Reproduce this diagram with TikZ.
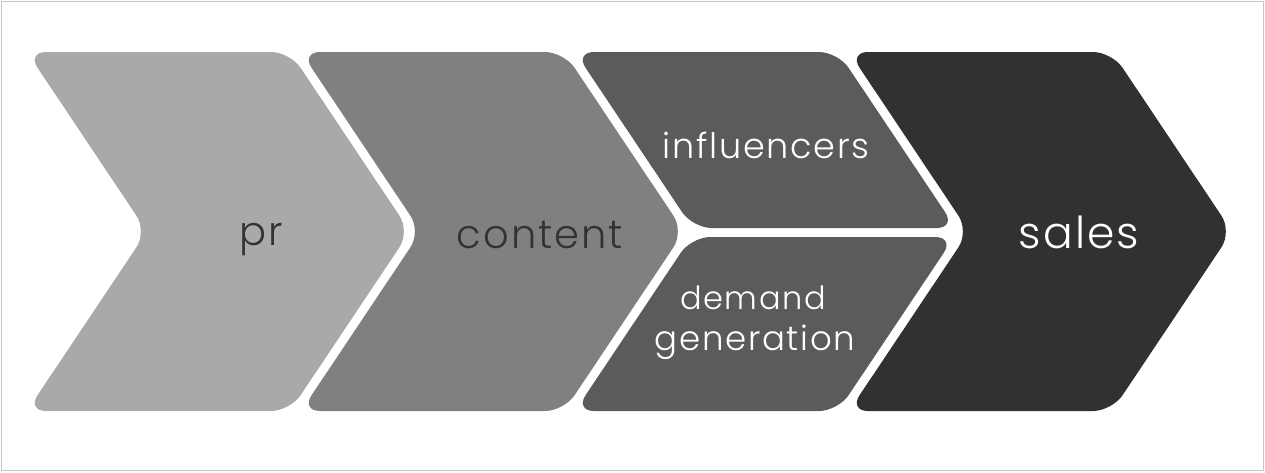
\documentclass[tikz,border=0pt]{standalone}
\usepackage{fontspec}
\setmainfont{Poppins}[UprightFont=* Light, LetterSpace=5]
\definecolor{cpr}{HTML}{A9A9A9}
\definecolor{ccontent}{HTML}{808080}
\definecolor{cmid}{HTML}{5B5B5B}
\definecolor{csales}{HTML}{313131}
\definecolor{cdark}{HTML}{333333}
\begin{document}
\begin{tikzpicture}[x=1pt,y=-1pt,
  chev/.style={rounded corners=19pt},
  lbl/.style={font=\fontsize{40}{44}\selectfont, inner sep=0pt, anchor=base},
  lbls/.style={font=\fontsize{35}{40}\selectfont, inner sep=0pt, anchor=base, text=white}]
\useasboundingbox (0,0) rectangle (1265,472);
\fill[white] (0,0) rectangle (1265,472);
\draw[gray!45, line width=1pt] (1,1) rectangle (1263,470);
% pr
\fill[cpr,chev] (158,52) -- (290,52) -- (410,231.5) -- (290,411) -- (27,411) -- (147,231.5) -- (27,52) -- cycle;
% content
\fill[ccontent,chev] (432,52) -- (564,52) -- (684,231.5) -- (564,411) -- (301,411) -- (421,231.5) -- (301,52) -- cycle;
% influencers (top half)
\fill[cmid,chev] (706,52) -- (838,52) -- (955.7,228) -- (692.7,228) -- (575,52) -- cycle;
% demand generation (bottom half)
\fill[cmid,chev] (706,411) -- (838,411) -- (954.3,237) -- (691.3,237) -- (575,411) -- cycle;
% sales
\fill[csales,chev] (980,52) -- (1112,52) -- (1232,231.5) -- (1112,411) -- (849,411) -- (969,231.5) -- (849,52) -- cycle;
\node[lbl, text=cdark] (pr) at (261,245) {pr};
\node[lbl, text=cdark] (content) at (540,248) {content};
\node[lbls] (infl) at (766,158) {influencers};
\node[lbls, font=\fontsize{32}{36}\selectfont] (demand) at (753,309) {demand};
\node[lbls, font=\fontsize{34}{38}\selectfont] (generation) at (755,350) {generation};
\node[lbl, text=white, font=\fontsize{44}{48}\selectfont] (sales) at (1079,248) {sales};
\end{tikzpicture}
\end{document}
